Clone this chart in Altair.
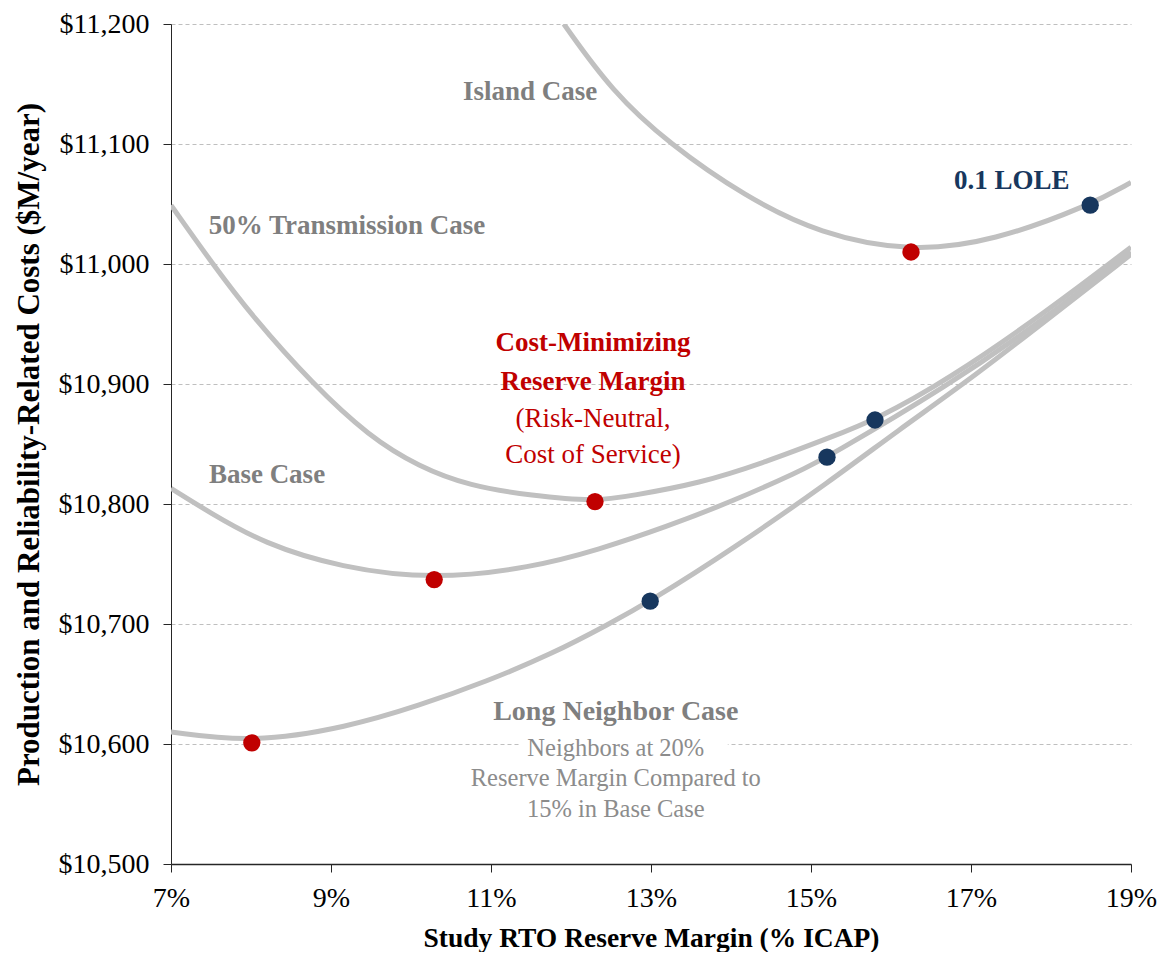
import altair as alt
import pandas as pd

# ---- data ----
island_x = [11.91, 12.51, 13.23, 14.18, 15.11, 16.25, 17.28, 18.49, 19.0]
island_y = [11200, 11144, 11100, 11056, 11025, 11010, 11019, 11049, 11068]

trans_x = [7.0, 7.52, 8.02, 8.77, 9.48, 10.1, 10.73, 11.51, 12.3, 12.76, 13.6, 14.44, 15.26, 15.8, 16.7, 17.96, 19.0]
trans_y = [11049, 11000, 10956, 10900, 10856, 10831, 10815, 10807, 10802, 10807, 10817, 10835, 10856, 10870, 10903, 10961, 11014]

base_x = [7.0, 7.48, 8.16, 9.12, 10.29, 11.51, 12.35, 13.19, 14.01, 14.85, 15.2, 16.7, 17.96, 19.0]
base_y = [10813, 10793, 10767, 10747, 10737, 10747, 10762, 10781, 10802, 10827, 10839, 10898, 10956, 11010]

long_x = [7.0, 8.01, 9.21, 10.1, 10.94, 11.76, 12.475, 12.99, 14.01, 15.26, 16.1, 16.91, 17.96, 19.0]
long_y = [10610, 10601, 10614, 10632, 10652, 10675, 10700, 10719, 10762, 10820, 10862, 10900, 10954, 11008]

min_x = [16.25, 12.3, 10.29, 8.01]
min_y = [11010, 10802, 10737, 10601]

lole_x = [18.49, 15.8, 15.2, 12.99]
lole_y = [11049, 10870, 10839, 10719]

x_ticks = [7, 9, 11, 13, 15, 17, 19]
y_ticks = [10500, 10600, 10700, 10800, 10900, 11000, 11100, 11200]

# annotations
labels_text = ["Island Case", "50% Transmission Case", "Base Case", "0.1 LOLE",
               "Cost-Minimizing", "Reserve Margin", "(Risk-Neutral,", "Cost of Service)",
               "Long Neighbor Case", "Neighbors at 20%", "Reserve Margin Compared to", "15% in Base Case"]
labels_x = [11.49, 9.2, 8.2, 17.51, 12.275, 12.275, 12.275, 12.275, 12.56, 12.56, 12.56, 12.56]
labels_y = [11143, 11032, 10824, 11069, 10934, 10902, 10871, 10841, 10627, 10596, 10571, 10545]
labels_color = ["#7F7F7F", "#7F7F7F", "#7F7F7F", "#17375E", "#C00000", "#C00000", "#C00000", "#C00000",
                "#7F7F7F", "#8C8C8C", "#8C8C8C", "#8C8C8C"]
labels_style = ["bold", "bold", "bold", "bold", "bold", "bold", "normal", "normal",
                "bigbold", "small", "small", "small"]

FONT = "Liberation Serif"

rows = []
for name, xs, ys in [("Island Case", island_x, island_y), ("50% Transmission Case", trans_x, trans_y),
                     ("Base Case", base_x, base_y), ("Long Neighbor Case", long_x, long_y)]:
    for xv, yv in zip(xs, ys):
        rows.append({"series": name, "x": xv, "y": yv})
lines_df = pd.DataFrame(rows)

pts_df = pd.DataFrame(
    [{"x": a, "y": b, "kind": "min"} for a, b in zip(min_x, min_y)]
    + [{"x": a, "y": b, "kind": "lole"} for a, b in zip(lole_x, lole_y)]
)

lab_df = pd.DataFrame({"text": labels_text, "x": labels_x, "y": labels_y,
                       "color": labels_color, "style": labels_style})

x_scale = alt.Scale(domain=[7, 19], nice=False, zero=False)
y_scale = alt.Scale(domain=[10500, 11200], nice=False, zero=False)

x_enc = alt.X("x:Q", scale=x_scale, axis=alt.Axis(
    values=x_ticks, labelExpr="datum.value + '%'", title="Study RTO Reserve Margin (% ICAP)",
    grid=False, domainColor="#262626", domainWidth=1.5, tickColor="#262626", tickSize=8,
    labelFlush=False,
    labelFont=FONT, labelFontSize=28, labelColor="#000000", labelPadding=12,
    titleFont=FONT, titleFontSize=27.5, titleFontWeight="bold", titleColor="#000000", titlePadding=12))
y_enc = alt.Y("y:Q", scale=y_scale, axis=alt.Axis(
    values=y_ticks, format="$,.0f", title="Production and Reliability-Related Costs ($M/year)",
    grid=True, gridDash=[4, 3], gridColor="#BFBFBF", gridWidth=1,
    domainColor="#262626", domainWidth=1, tickColor="#262626", tickSize=8,
    labelFlush=False,
    labelFont=FONT, labelFontSize=28, labelColor="#000000", labelPadding=14,
    titleFont=FONT, titleFontSize=31, titleFontWeight="bold", titleColor="#000000", titlePadding=13))

# white box behind the Long Neighbor description
box = alt.Chart(pd.DataFrame({"x": [11.36], "x2": [13.96], "y": [10530], "y2": [10612]})).mark_rect(
    color="white").encode(x=x_enc, x2="x2:Q", y=y_enc, y2="y2:Q")

lines = alt.Chart(lines_df).mark_line(
    interpolate="basis", color="#C0C0C0", strokeWidth=5, clip=True
).encode(x=x_enc, y=y_enc, detail="series:N")

pts = alt.Chart(pts_df).mark_point(filled=True, size=300, opacity=1).encode(
    x=x_enc, y=y_enc,
    color=alt.Color("kind:N", scale=alt.Scale(domain=["min", "lole"], range=["#C00000", "#17375E"]), legend=None))


def text_layer(style, size, weight):
    return alt.Chart(lab_df).transform_filter(f"datum.style == '{style}'").mark_text(
        font=FONT, fontSize=size, fontWeight=weight, align="center", baseline="middle").encode(
        x=x_enc, y=y_enc, text="text:N", color=alt.Color("color:N", scale=None))


texts = [text_layer("bold", 27, "bold"), text_layer("bigbold", 28, "bold"),
         text_layer("normal", 27, "normal"), text_layer("small", 24.5, "normal")]

chart = alt.layer(box, lines, pts, *texts).properties(
    width=960, height=840, padding={"left": 5, "top": 2, "right": 5, "bottom": 0}
).configure_view(stroke=None)

chart.save("out.html", embed_options={"renderer": "svg", "actions": False})
